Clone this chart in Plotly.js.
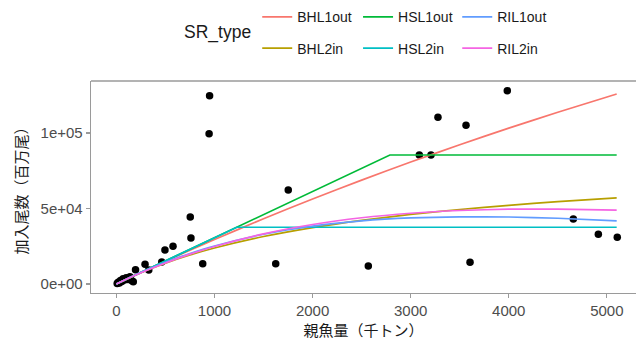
<!DOCTYPE html>
<html>
<head>
<meta charset="utf-8">
<script src="https://cdn.plot.ly/plotly-3.0.1.min.js"></script>
<style>
  html, body { margin: 0; padding: 0; background: #ffffff; }
  #chart { width: 636px; height: 342px; }
</style>
</head>
<body>
<div id="chart"></div>
<script>
// Observed spawning stock biomass (thousand t) and recruitment (million fish)
const ssbObs = [8, 18, 30, 42, 55, 68, 82, 100, 118, 138, 158, 172, 195, 292, 330, 462, 495, 577,
                753, 760, 880, 945, 950, 1624, 1752, 2568, 3088, 3207, 3278, 3564, 3605, 3985,
                4658, 4913, 5106];
const recObs = [300, 1200, 700, 2300, 1600, 3400, 2600, 4100, 3000, 4800, 2200, 1500, 9400, 13100, 9300, 14600, 22500, 25000,
                44400, 30500, 13400, 99500, 124700, 13400, 62300, 11900, 85400, 85400, 110400, 105100, 14400, 128000,
                43000, 32900, 30900];

// Fitted stock-recruitment curves, sampled along SSB
const ssbGrid = [0, 250, 500, 750, 1000, 1500, 2000, 2500, 3000, 3500, 4000, 4500, 5100];
const bhl1out = [0, 7644, 15100, 22380, 29490, 43200, 56290, 68800, 80770, 92220, 103200, 113730, 125800];
const bhl2in  = [0, 7529, 13848, 19227, 23861, 31439, 37373, 42146, 46068, 49348, 52133, 54526, 56987];
const ril1out = [0, 7735, 14448, 20239, 25202, 32973, 38345, 41802, 43752, 44515, 44368, 43533, 41869];
const ril2in  = [0, 7398, 13961, 19760, 24859, 33200, 39414, 43865, 46861, 48679, 49536, 49618, 48925];

// Hockey-stick fits: origin, breakpoint, end of SSB range
const hsl1outSSB = [0, 2788, 5100];
const hsl1outRec = [0, 85430, 85430];
const hsl2inSSB  = [0, 1227, 5100];
const hsl2inRec  = [0, 37600, 37600];

// Axis tick labels
const xTicks = [0, 1000, 2000, 3000, 4000, 5000];
const yTicks = [0, 50000, 100000];
const yTickText = ['0e+00', '5e+04', '1e+05'];

const latin = 'Liberation Sans, Arial, Noto Sans CJK JP, sans-serif';
const cjk = 'Noto Sans CJK JP, Liberation Sans, sans-serif';

function curve(name, x, y, color, legendId) {
  return {
    type: 'scatter', mode: 'lines', name: name, x: x, y: y,
    line: { color: color, width: 1.7, shape: 'spline', smoothing: 0.6 },
    legend: legendId, legendgroup: name, hoverinfo: 'skip'
  };
}

const traces = [
  {
    type: 'scatter', mode: 'markers', x: ssbObs, y: recObs, showlegend: false,
    marker: { color: '#000000', size: 7.5 }, hoverinfo: 'skip'
  },
  curve('BHL1out', ssbGrid, bhl1out, '#F8766D', 'legend'),
  curve('BHL2in', ssbGrid, bhl2in, '#B79F00', 'legend'),
  Object.assign(curve('HSL1out', hsl1outSSB, hsl1outRec, '#00BA38', 'legend2'), { line: { color: '#00BA38', width: 1.7 } }),
  Object.assign(curve('HSL2in', hsl2inSSB, hsl2inRec, '#00BFC4', 'legend2'), { line: { color: '#00BFC4', width: 1.7 } }),
  curve('RIL1out', ssbGrid, ril1out, '#619CFF', 'legend3'),
  curve('RIL2in', ssbGrid, ril2in, '#F564E3', 'legend3')
];

function legendAt(x) {
  return {
    x: x, y: 1.376, xanchor: 'left', yanchor: 'top', orientation: 'v',
    bgcolor: 'rgba(0,0,0,0)', borderwidth: 0, tracegroupgap: 10, itemwidth: 30,
    font: { family: latin, size: 14, color: '#1a1a1a' }
  };
}

const layout = {
  width: 636, height: 342,
  margin: { l: 91, r: 0, t: 81, b: 49 },
  paper_bgcolor: '#ffffff', plot_bgcolor: '#ffffff',
  showlegend: true,
  legend: legendAt(0.305),
  legend2: legendAt(0.49),
  legend3: legendAt(0.672),
  xaxis: {
    range: [-259, 5297], tickvals: xTicks, ticktext: xTicks.map(String),
    showgrid: false, zeroline: false, showline: true, linecolor: '#9a9a9a', linewidth: 1.3,
    ticks: 'outside', ticklen: 4, tickwidth: 1.1, tickcolor: '#9a9a9a',
    tickfont: { family: latin, size: 15, color: '#4d4d4d' },
    title: { text: '親魚量（千トン）', font: { family: cjk, size: 15, color: '#1a1a1a' }, standoff: 4 }
  },
  yaxis: {
    range: [-5960, 134440], tickvals: yTicks, ticktext: yTickText,
    showgrid: false, zeroline: false, showline: true, linecolor: '#9a9a9a', linewidth: 1.3,
    ticks: 'outside', ticklen: 4, tickwidth: 1.1, tickcolor: '#9a9a9a',
    tickfont: { family: latin, size: 15, color: '#4d4d4d' },
    title: { text: '加入尾数（百万尾）', font: { family: cjk, size: 15, color: '#1a1a1a' }, standoff: 9 }
  },
  shapes: [
    { type: 'line', xref: 'paper', yref: 'paper', x0: 0, x1: 1, y0: 1, y1: 1,
      line: { color: '#9a9a9a', width: 1.3 } }
  ],
  annotations: [
    { text: 'SR_type', xref: 'paper', yref: 'paper', x: 0.233, y: 1.228,
      xanchor: 'center', yanchor: 'middle', showarrow: false,
      font: { family: latin, size: 17.5, color: '#1a1a1a' } }
  ]
};

Plotly.newPlot('chart', traces, layout, { staticPlot: true, displayModeBar: false });
</script>
</body>
</html>
